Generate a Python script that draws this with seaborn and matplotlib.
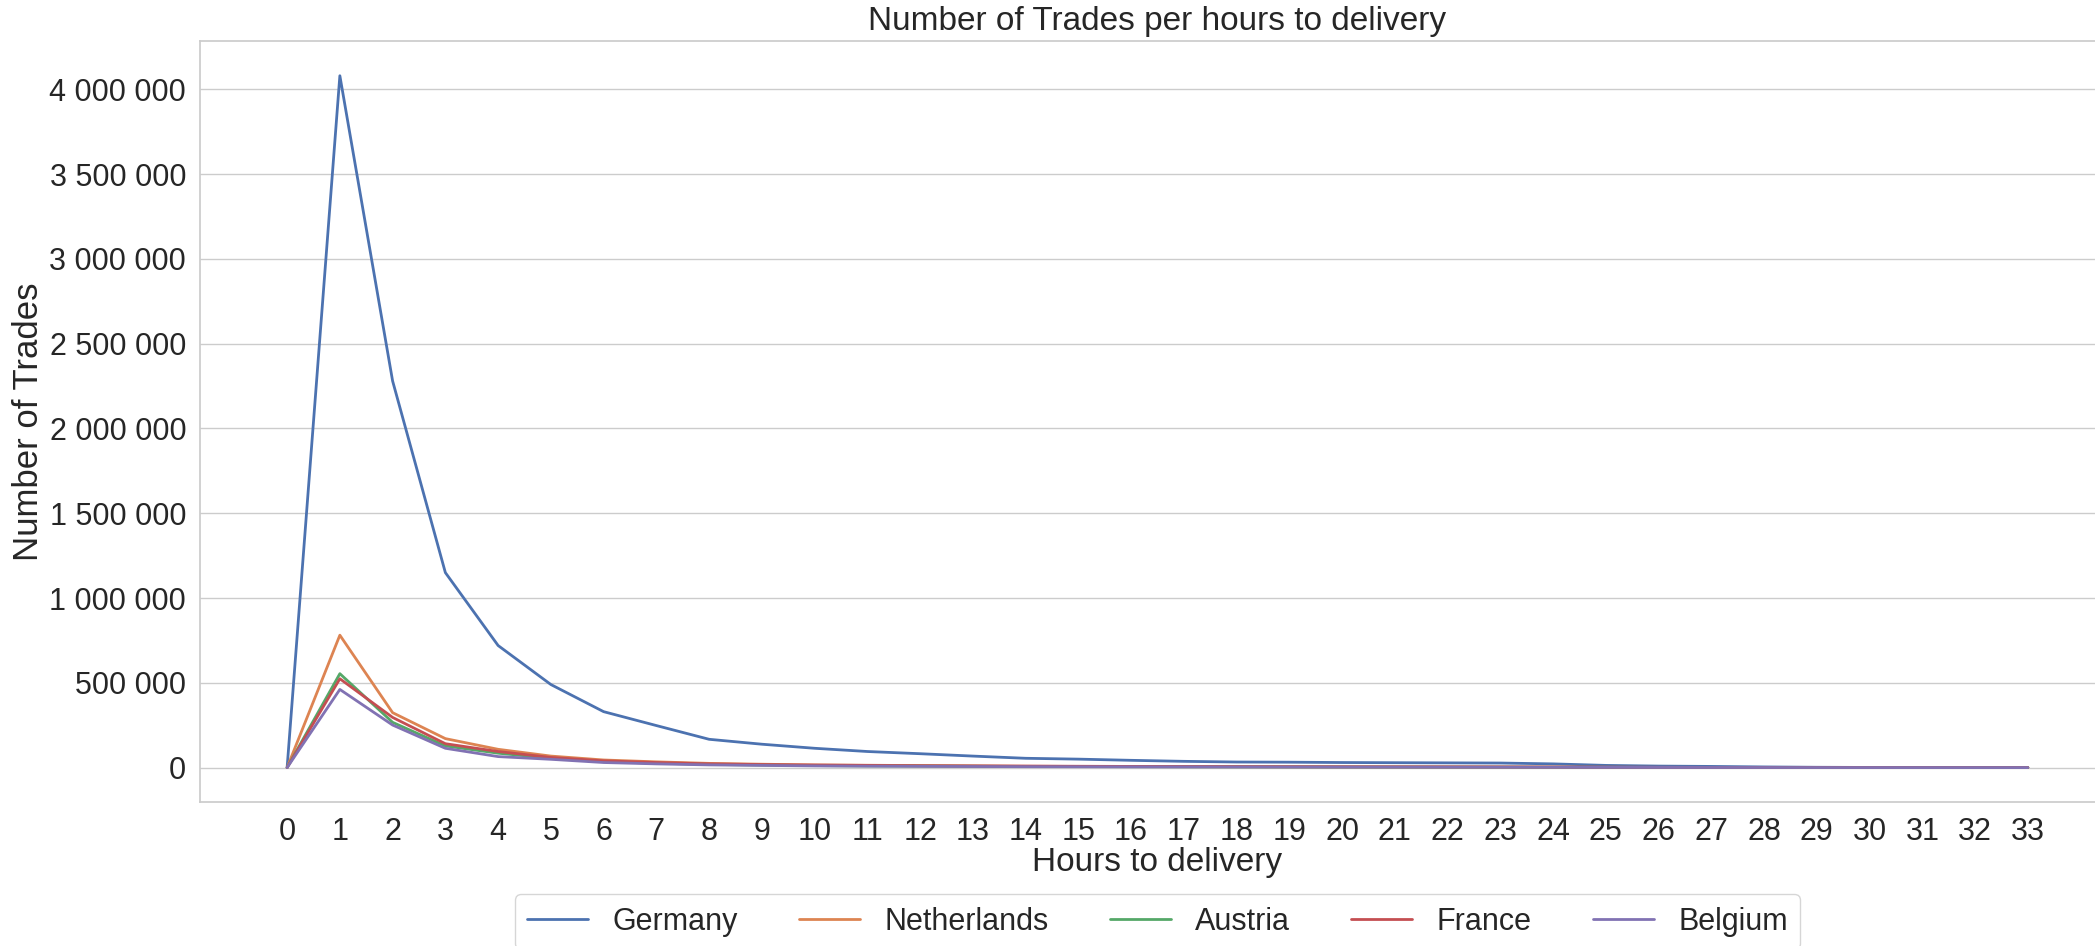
import pandas as pd
import numpy as np

import seaborn as sns
import matplotlib.pyplot as plt
from matplotlib.ticker import FuncFormatter

hours = list(range(34))

germany = [0, 4080000, 2280000, 1150000, 720000, 490000, 330000, 248000, 167000, 138000,
           114000, 95000, 82000, 68000, 55000, 50000, 43000, 37000, 33000, 32000,
           30000, 29000, 28000, 27000, 22000, 13000, 9000, 7000, 4000, 2000,
           1000, 800, 500, 200]
netherlands = [0, 781000, 324000, 171000, 108000, 68000, 45000, 34000, 25000, 20000,
               16000, 14000, 12000, 10000, 8000, 7000, 6000, 5500, 5000, 4500,
               4000, 3800, 3500, 3200, 2800, 2000, 1500, 1200, 900, 600,
               400, 300, 200, 100]
austria = [0, 554000, 267000, 128000, 85000, 55000, 35000, 26000, 19000, 15000,
           12000, 10000, 9000, 8000, 7000, 6000, 5500, 5000, 4500, 4000,
           3600, 3300, 3000, 2800, 2400, 1800, 1300, 1000, 700, 500,
           300, 200, 150, 100]
france = [0, 524000, 296000, 141000, 95000, 60000, 40000, 30000, 22000, 18000,
          15000, 13000, 11000, 10000, 9000, 8000, 7000, 6500, 6000, 5500,
          5000, 4700, 4400, 4000, 3500, 2500, 1800, 1300, 900, 600,
          400, 300, 200, 100]
belgium = [0, 461000, 251000, 114000, 65000, 49000, 30000, 22000, 16000, 13000,
           10000, 8500, 7500, 6500, 5500, 5000, 4500, 4000, 3600, 3300,
           3000, 2800, 2600, 2400, 2000, 1500, 1100, 800, 600, 400,
           250, 150, 100, 50]

countries = ['Germany', 'Netherlands', 'Austria', 'France', 'Belgium']
series = [germany, netherlands, austria, france, belgium]

df = pd.DataFrame({'hours': hours * len(countries),
                   'trades': sum(series, []),
                   'country': np.repeat(countries, len(hours))})

sns.set_theme(style="whitegrid")
plt.rcParams['font.family'] = ['Liberation Sans', 'DejaVu Sans']
plt.rcParams['text.color'] = '.15'
plt.rcParams['axes.labelcolor'] = '.15'
plt.rcParams['xtick.color'] = '.15'
plt.rcParams['ytick.color'] = '.15'

fig = plt.figure(figsize=(20.95, 9.46), dpi=100)
ax = fig.add_axes([0.0955, 0.152, 0.914, 0.8045])

sns.lineplot(data=df, x='hours', y='trades', hue='country', ax=ax, linewidth=2,
             palette='deep')

ax.set_xticks(hours)
ax.grid(axis='x', visible=False)
ax.yaxis.set_major_formatter(FuncFormatter(lambda v, p: '{:,.0f}'.format(v).replace(',', ' ')))
ax.tick_params(axis='both', labelsize=22)
ax.tick_params(axis='y', pad=4)
ax.tick_params(axis='x', pad=4.5)
ax.set_xlabel('Hours to delivery', fontsize=24, labelpad=0)
ax.set_ylabel('Number of Trades', fontsize=25, labelpad=3.5)
ax.set_title('Number of Trades per hours to delivery', fontsize=24, pad=8)

ax.legend(loc='upper center', bbox_to_anchor=(0.5, -0.101), ncol=5, fontsize=22,
          frameon=True)

plt.savefig("out.png", dpi=100)
